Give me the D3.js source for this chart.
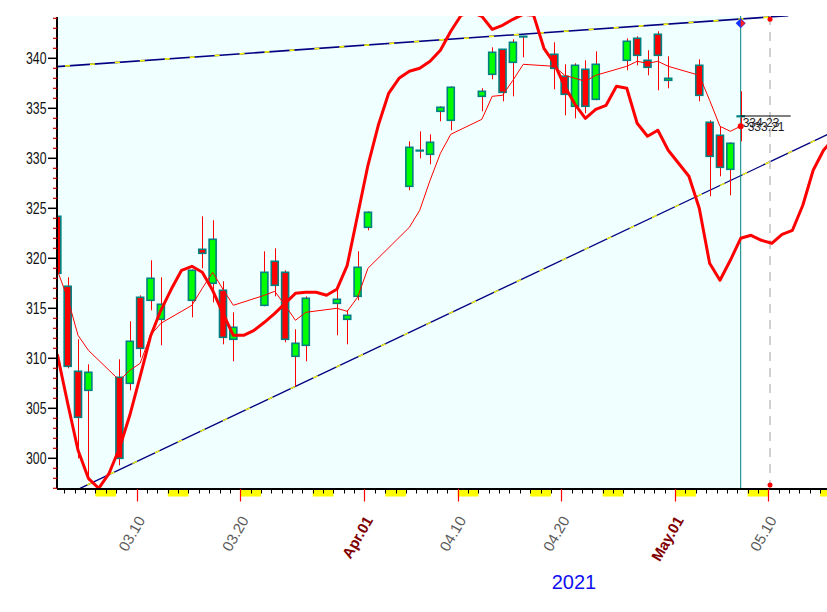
<!DOCTYPE html>
<html><head><meta charset="utf-8">
<script src="https://cdn.jsdelivr.net/npm/d3@7"></script>
<style>body{margin:0;background:#fff}svg{display:block}text{font-family:"Liberation Sans",Arial,sans-serif}</style>
</head><body><svg id="c" width="827" height="612"></svg>
<script>
// ---------------- data ----------------
const tradeDates = ["2021-03-02","2021-03-03","2021-03-04","2021-03-05","2021-03-08","2021-03-09","2021-03-10","2021-03-11","2021-03-12","2021-03-15","2021-03-16","2021-03-17","2021-03-18","2021-03-19","2021-03-22","2021-03-23","2021-03-24","2021-03-25","2021-03-26","2021-03-29","2021-03-30","2021-03-31","2021-04-01","2021-04-05","2021-04-06","2021-04-07","2021-04-08","2021-04-09","2021-04-12","2021-04-13","2021-04-14","2021-04-15","2021-04-16","2021-04-19","2021-04-20","2021-04-21","2021-04-22","2021-04-23","2021-04-26","2021-04-27","2021-04-28","2021-04-29","2021-04-30","2021-05-03","2021-05-04","2021-05-05","2021-05-06","2021-05-07"];
const opens  = [324.2,317.2,308.7,306.8,308.1,307.5,316.1,315.8,313.9,315.8,320.9,317.5,316.8,311.9,315.3,319.7,318.6,310.2,311.3,315.5,313.9,316.2,323.1,327.2,330.8,330.4,334.7,333.8,336.2,338.4,340.9,339.6,342.2,340.4,338.2,335.2,338.9,335.9,339.8,342.0,339.8,342.4,337.8,339.3,333.6,332.3,328.9,334.23];
const highs  = [324.3,318.1,311.9,309.4,309.9,313.7,316.3,319.8,318.1,318.9,324.2,323.8,317.7,314.6,320.7,321.0,318.8,312.9,316.2,317.0,314.8,320.7,324.7,331.7,332.7,332.4,335.2,337.2,337.0,341.1,340.9,341.9,342.25,341.6,339.4,339.5,339.8,340.7,342.0,342.2,340.8,342.7,340.2,339.9,333.8,333.2,331.6,336.7];
const lows   = [318.1,309.0,300.0,297.8,299.3,306.8,310.1,314.8,311.3,314.1,319.0,315.6,311.4,309.7,315.2,316.2,311.6,307.2,309.7,312.3,311.4,315.8,322.8,326.8,330.0,329.4,333.7,332.8,334.7,337.9,335.7,336.2,340.1,336.9,334.3,334.0,334.5,335.8,338.8,339.3,338.3,336.8,337.0,335.7,326.2,328.2,326.3,331.7];
const closes = [318.5,309.2,304.1,308.6,300.0,311.7,311.0,318.0,315.4,318.8,320.5,321.9,312.1,313.1,318.6,317.3,311.9,311.5,316.0,315.9,314.3,319.1,324.6,331.1,330.8,331.6,335.1,337.1,336.7,340.6,336.6,341.6,342.2,339.0,336.4,339.3,335.2,339.4,341.7,340.3,339.1,340.3,338.0,336.3,330.2,329.1,331.5,334.23];
const maValues = [318.8,316.0,312.3,310.8,307.8,308.8,309.5,312.3,313.5,315.3,317.0,318.6,316.9,315.3,316.3,316.7,315.3,313.8,314.6,315.0,314.7,316.1,319.0,323.1,324.8,327.8,330.5,332.4,333.9,336.2,336.3,337.8,339.4,339.2,338.3,338.0,337.7,338.3,339.2,339.7,339.5,339.7,339.2,338.3,335.8,333.2,332.7,333.21];
// thick line: one value per calendar day starting 2021-03-02
const bandStart = "2021-03-02";
const bandValues = [310.4,305.5,300.8,298.0,297.0,298.5,301.0,304.3,308.2,312.2,314.8,316.9,318.8,319.2,318.6,316.8,314.5,312.3,312.3,312.8,313.6,314.5,315.5,316.5,316.6,316.6,316.3,316.9,319.3,324.3,
  329.3,333.3,336.5,338.0,338.7,339.0,339.7,340.8,342.7,344.3,344.6,344.2,342.9,343.3,343.9,344.4,344.3,341.0,339.5,337.2,335.4,334.0,334.9,335.3,337.2,337.0,333.5,332.2,332.8,330.8,
  329.5,328.2,325.0,319.5,317.8,319.8,322.0,322.3,321.8,321.5,322.4,322.8,325.3,328.8,330.8,332.0];
const upperTrend = [["2021-03-02T07:16",339.17],["2021-05-11T22:20",344.26]];
const lowerTrend = [["2021-03-04T12:35",297.0],["2021-05-17T00:00",333.0]];
const yTickValues = [300,305,310,315,320,325,330,335,340];
const xLabelDates = ["2021-03-10","2021-03-20","2021-04-01","2021-04-10","2021-04-20","2021-05-01","2021-05-10"];
const xLabelTexts = ["03.10","03.20","Apr.01","04.10","04.20","May.01","05.10"];
const xLabelMonth = [false,false,true,false,false,true,false];
const yearLabel = "2021";
const lastPriceLabel = "334.23";
const lastMaLabel = "333.21";
const diamondPoint = ["2021-05-07T08:00",343.5];
const futureDate = "2021-05-10T04:00";
const futureDots = [343.9,297.33];

// ---------------- layout ----------------
const L=57, R=827, T=16, B=489;
const parse = s => new Date(s.length===10 ? s+"T00:00:00Z" : s+":00Z");
const HOUR=3600e3, DAY=24*HOUR, OFF=8*HOUR;
const x = d3.scaleUtc().domain([parse("2021-03-10"),parse("2021-05-10")]).range([136.7,768.3]);
const y = d3.scaleLinear().domain([300,340]).range([458.3,58.3]);
const xc = d => x(new Date(parse(d).getTime()+OFF));

const svg = d3.select("#c");
svg.append("defs").append("clipPath").attr("id","clip").append("rect")
  .attr("x",L).attr("y",T).attr("width",R-L).attr("height",B-T);

const lastX = xc(tradeDates[tradeDates.length-1]);
svg.append("rect").attr("x",L).attr("y",T).attr("width",lastX-L).attr("height",B-T).attr("fill","#f0ffff");

const g = svg.append("g").attr("clip-path","url(#clip)");

// trend lines
function trend(pts, w){
  const line = d3.line().x(p=>x(parse(p[0]))).y(p=>y(p[1]));
  g.append("path").attr("d",line(pts)).attr("stroke","#000080").attr("stroke-width",w).attr("fill","none");
  g.append("path").attr("d",line(pts)).attr("stroke","#ffff00").attr("stroke-width",w).attr("fill","none")
    .attr("stroke-dasharray","5,20").attr("stroke-dashoffset",-8);
}
trend(upperTrend,1.6);
trend(lowerTrend,1.3);

// vertical marker lines
g.append("line").attr("x1",lastX).attr("x2",lastX).attr("y1",T).attr("y2",B).attr("stroke","#008080").attr("stroke-width",1);
const fx = x(parse(futureDate));
g.append("line").attr("x1",fx).attr("x2",fx).attr("y1",T).attr("y2",B).attr("stroke","#c0c0c0").attr("stroke-width",1.5).attr("stroke-dasharray","9,7");

// candles
const candles = tradeDates.map((d,i)=>({d,o:opens[i],h:highs[i],l:lows[i],c:closes[i]}));
const cg = g.append("g");
cg.selectAll("line.w").data(candles).join("line")
  .attr("x1",d=>Math.round(xc(d.d))+0.5).attr("x2",d=>Math.round(xc(d.d))+0.5)
  .attr("y1",d=>y(d.h)).attr("y2",d=>y(d.l)).attr("stroke","#ff0000").attr("stroke-width",1);
cg.selectAll("rect.b").data(candles).join("rect")
  .attr("x",d=>xc(d.d)-3.5).attr("width",7)
  .attr("y",d=>y(Math.max(d.o,d.c))).attr("height",d=>Math.max(0.6,Math.abs(y(d.o)-y(d.c))))
  .attr("fill",d=>d.c<d.o?"#ff0000":"#00ff00").attr("stroke","#008080").attr("stroke-width",1.6);

// thin moving average
g.append("path").attr("d",d3.line().x((v,i)=>xc(tradeDates[i])).y(v=>y(v))(maValues))
  .attr("fill","none").attr("stroke","#ff0000").attr("stroke-width",1);

// thick line (calendar days)
const b0 = parse(bandStart).getTime();
g.append("path").attr("d",d3.line().x((v,i)=>x(new Date(b0+i*DAY+OFF))).y(v=>y(v))(bandValues))
  .attr("fill","none").attr("stroke","#ff0000").attr("stroke-width",3).attr("stroke-linejoin","round");

// last price marker line + labels
const lp = closes[closes.length-1], lm = maValues[maValues.length-1];
svg.append("line").attr("x1",lastX).attr("x2",lastX+50).attr("y1",y(lp)).attr("y2",y(lp)).attr("stroke","#000").attr("stroke-width",1.2);
svg.append("circle").attr("cx",lastX).attr("cy",y(lm)).attr("r",3).attr("fill","#ff0000");
svg.append("text").attr("x",lastX+2).attr("y",y(lp)+11).attr("font-size",12).attr("fill","#222").text(lastPriceLabel);
svg.append("text").attr("x",lastX+7).attr("y",y(lm)+5).attr("font-size",12).attr("fill","#1a1a2a").text(lastMaLabel);

// diamond marker
const dx = x(parse(diamondPoint[0])), dy = y(diamondPoint[1]);
svg.append("path").attr("d",`M${dx-5},${dy}L${dx},${dy-5}L${dx+5},${dy}L${dx},${dy+5}Z`).attr("fill","#1030ff");
svg.append("path").attr("d",`M${dx},${dy-4}L${dx+4.5},${dy}L${dx},${dy+4}Z`).attr("fill","#ff2020");
futureDots.forEach(v=>svg.append("circle").attr("cx",fx).attr("cy",y(v)).attr("r",2.5).attr("fill","#ff0000"));

// ---------------- axes ----------------
// y axis
svg.append("line").attr("x1",L).attr("x2",L).attr("y1",T+1).attr("y2",B).attr("stroke","#000").attr("stroke-width",2);
const minor = d3.range(297,345).filter(v=>v%5!==0 && y(v)>=T);
svg.selectAll("line.ym").data(minor).join("line").attr("x1",L-4).attr("x2",L).attr("y1",d=>y(d)).attr("y2",d=>y(d)).attr("stroke","#e00000").attr("stroke-width",1.2);
svg.selectAll("line.yM").data(yTickValues).join("line").attr("x1",L-9).attr("x2",L).attr("y1",d=>y(d)).attr("y2",d=>y(d)).attr("stroke","#000").attr("stroke-width",1.5);
svg.selectAll("text.yl").data(yTickValues).join("text").attr("x",46.5).attr("y",d=>y(d)+6)
  .attr("text-anchor","end").attr("font-size",16.5).attr("fill","#111")
  .attr("textLength",20.5).attr("lengthAdjust","spacingAndGlyphs").text(d=>d);

// x axis: weekends
const days = d3.utcDay.range(parse("2021-02-27"),parse("2021-05-18"));
const sats = days.filter(d=>d.getUTCDay()===6);
const xa = svg.append("g").attr("clip-path","url(#clipx)");
svg.select("defs").append("clipPath").attr("id","clipx").append("rect").attr("x",L).attr("y",B-2).attr("width",R-L).attr("height",30);
xa.selectAll("rect").data(sats).join("rect").attr("x",d=>x(d)).attr("width",d=>x(d3.utcDay.offset(d,2))-x(d))
  .attr("y",B).attr("height",7.5).attr("fill","#ffff00");
xa.selectAll("line.dt").data(days.filter(d=>x(d)>L+2)).join("line")
  .attr("x1",d=>Math.round(x(d))+0.5).attr("x2",d=>Math.round(x(d))+0.5).attr("y1",B).attr("y2",B+4.5).attr("stroke","#000").attr("stroke-width",1);
svg.append("line").attr("x1",L).attr("x2",R).attr("y1",B).attr("y2",B).attr("stroke","#000").attr("stroke-width",2);
const labs = xLabelDates.map((d,i)=>({d,t:xLabelTexts[i],m:xLabelMonth[i]}));
svg.selectAll("line.mj").data(labs).join("line")
  .attr("x1",d=>Math.round(x(parse(d.d)))+0.5).attr("x2",d=>Math.round(x(parse(d.d)))+0.5)
  .attr("y1",B).attr("y2",B+12.5).attr("stroke","#ff0000").attr("stroke-width",1.2);
svg.selectAll("text.xl").data(labs).join("text")
  .attr("transform",d=>`translate(${x(parse(d.d))+9},520) rotate(-60)`)
  .attr("text-anchor","end").attr("font-size",15)
  .attr("font-weight",d=>d.m?"bold":"normal").attr("fill",d=>d.m?"#800000":"#5a5a5a").text(d=>d.t);
svg.append("text").attr("x",574).attr("y",589).attr("text-anchor","middle").attr("font-size",20).attr("fill","#1010ee").text(yearLabel);
</script></body></html>
